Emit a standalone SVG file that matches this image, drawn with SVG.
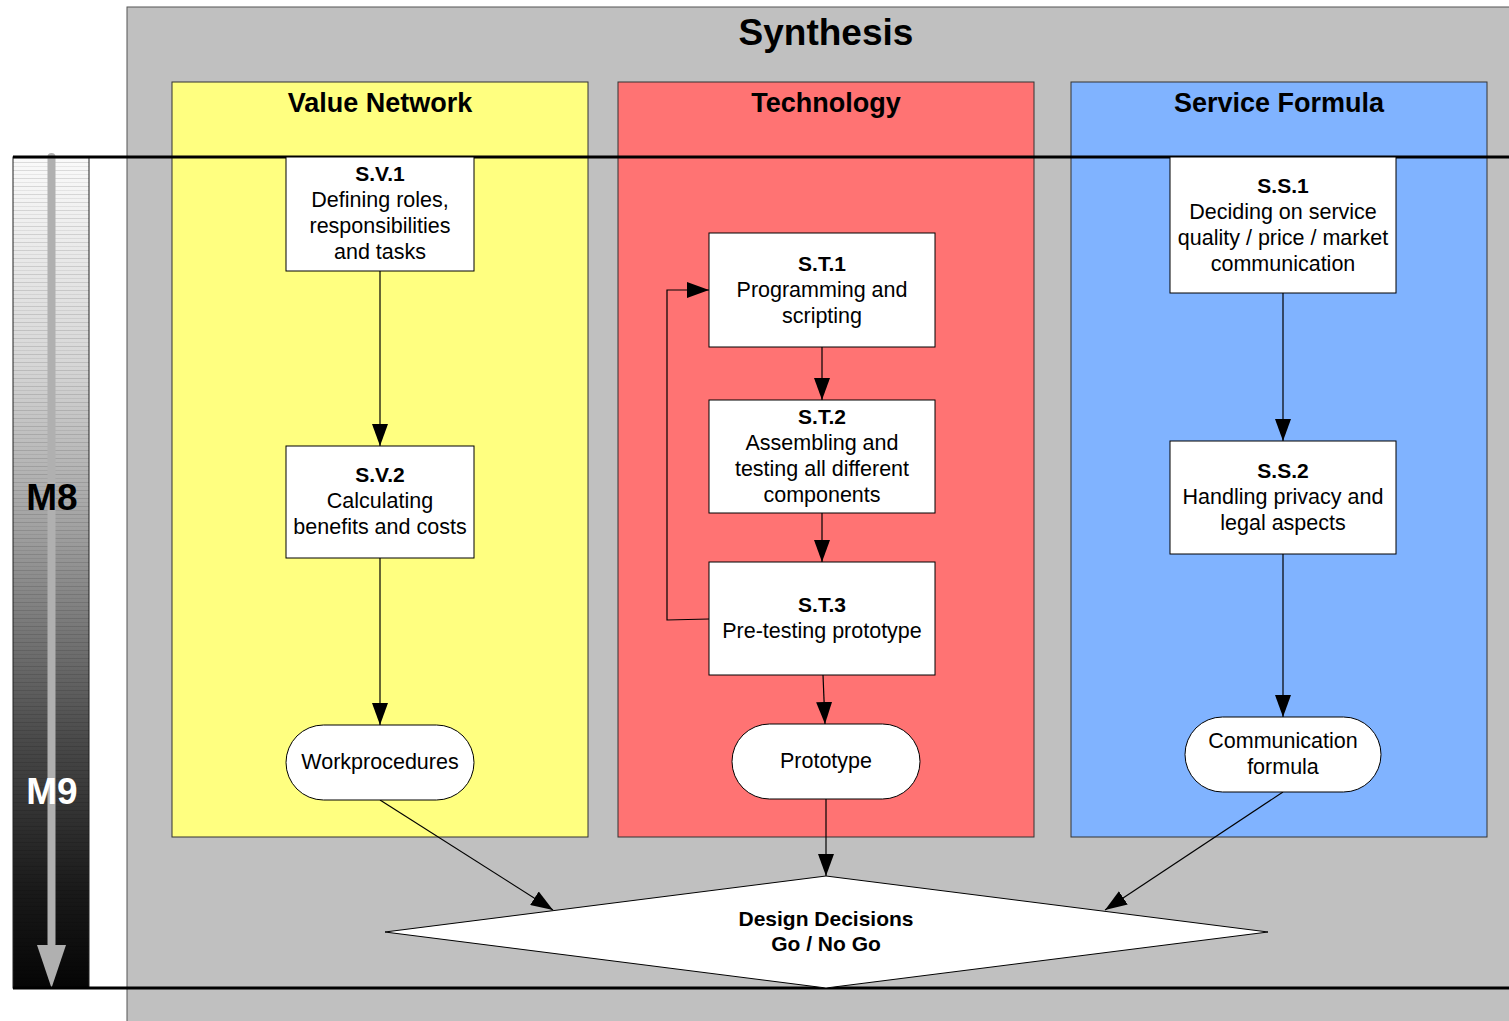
<svg xmlns="http://www.w3.org/2000/svg" width="1509" height="1021" viewBox="0 0 1509 1021">
  <defs>
    <style>
      text { font-family: "Liberation Sans", Arial, sans-serif; fill: #000; }
      .title { font-size: 37px; font-weight: bold; text-anchor: middle; }
      .lane-title { font-size: 27px; font-weight: bold; text-anchor: middle; }
      .id { font-size: 21px; font-weight: bold; text-anchor: middle; }
      .label { font-size: 21.5px; text-anchor: middle; }
      .milestone { font-size: 37px; font-weight: bold; text-anchor: middle; }
      .box { fill: #fff; stroke: #000; stroke-width: 1; }
      .lane { stroke: #333; stroke-width: 1; }
      .conn { fill: none; stroke: #000; stroke-width: 1.2; }
      .rule { stroke: #000; stroke-width: 3; }
    </style>
    <marker id="arrow" markerUnits="userSpaceOnUse" markerWidth="24" markerHeight="16" refX="22" refY="8" orient="auto">
      <path d="M0,0 L22,8 L0,16 z" fill="#000"/>
    </marker>
    <linearGradient id="timeGrad" x1="0" y1="0" x2="0" y2="1">
      <stop offset="0" stop-color="#fafafa"/>
      <stop offset="0.25" stop-color="#d6d6d6"/>
      <stop offset="0.45" stop-color="#a0a0a0"/>
      <stop offset="0.7" stop-color="#4a4a4a"/>
      <stop offset="0.88" stop-color="#1a1a1a"/>
      <stop offset="1" stop-color="#050505"/>
    </linearGradient>
    <pattern id="bands" patternUnits="userSpaceOnUse" width="76" height="8">
      <rect x="0" y="2" width="76" height="1" fill="#000" fill-opacity="0.12"/>
      <rect x="0" y="6" width="76" height="1" fill="#000" fill-opacity="0.07"/>
    </pattern>
  </defs>

  <rect x="0" y="0" width="1509" height="1021" fill="#fff"/>

  <!-- Synthesis panel -->
  <g id="synthesis">
    <rect x="127" y="7" width="1390" height="1020" fill="#c0c0c0" stroke="#555" stroke-width="1"/>
    <text class="title" x="826" y="45">Synthesis</text>
  </g>

  <!-- Lanes -->
  <g id="lane-value-network">
    <rect class="lane" x="172" y="82" width="416" height="755" fill="#ffff80"/>
    <text class="lane-title" x="380" y="112">Value Network</text>
  </g>
  <g id="lane-technology">
    <rect class="lane" x="618" y="82" width="416" height="755" fill="#ff7373"/>
    <text class="lane-title" x="826" y="112">Technology</text>
  </g>
  <g id="lane-service-formula">
    <rect class="lane" x="1071" y="82" width="416" height="755" fill="#80b3ff"/>
    <text class="lane-title" x="1279" y="112">Service Formula</text>
  </g>

  <!-- Time bar -->
  <g id="timeline">
    <rect x="13" y="157" width="76" height="831" fill="url(#timeGrad)" stroke="#222" stroke-width="1"/>
    <rect x="13" y="157" width="76" height="831" fill="url(#bands)"/>
    <rect x="47.5" y="153" width="8" height="795" rx="4" fill="#b0b0b0"/>
    <polygon points="37,945 66,945 51.5,988" fill="#b0b0b0"/>
    <text class="milestone" x="52" y="510">M8</text>
    <text class="milestone" x="52" y="804" style="fill:#fff">M9</text>
  </g>

  <!-- Phase rules -->
  <g id="rules">
    <line class="rule" x1="13" y1="157" x2="1509" y2="157"/>
    <line class="rule" x1="13" y1="988" x2="1509" y2="988"/>
  </g>

  <!-- Connectors -->
  <g id="connectors">
    <line class="conn" x1="380" y1="271" x2="380" y2="446" marker-end="url(#arrow)"/>
    <line class="conn" x1="380" y1="558" x2="380" y2="725" marker-end="url(#arrow)"/>
    <line class="conn" x1="380" y1="800" x2="553" y2="910" marker-end="url(#arrow)"/>

    <line class="conn" x1="822" y1="347" x2="822" y2="400" marker-end="url(#arrow)"/>
    <line class="conn" x1="822" y1="513" x2="822" y2="562" marker-end="url(#arrow)"/>
    <line class="conn" x1="823" y1="675" x2="825" y2="724" marker-end="url(#arrow)"/>
    <polyline class="conn" points="709,619 667,620 667,290 709,290" marker-end="url(#arrow)"/>
    <line class="conn" x1="826" y1="799" x2="826" y2="876" marker-end="url(#arrow)"/>

    <line class="conn" x1="1283" y1="293" x2="1283" y2="441" marker-end="url(#arrow)"/>
    <line class="conn" x1="1283" y1="554" x2="1283" y2="717" marker-end="url(#arrow)"/>
    <line class="conn" x1="1283" y1="792" x2="1105" y2="910" marker-end="url(#arrow)"/>
  </g>

  <!-- Value Network nodes -->
  <g id="sv1">
    <rect class="box" x="286" y="157" width="188" height="114"/>
    <text class="id" x="380" y="181">S.V.1</text>
    <text class="label" x="380" y="207">Defining roles,</text>
    <text class="label" x="380" y="233">responsibilities</text>
    <text class="label" x="380" y="259">and tasks</text>
  </g>
  <g id="sv2">
    <rect class="box" x="286" y="446" width="188" height="112"/>
    <text class="id" x="380" y="482">S.V.2</text>
    <text class="label" x="380" y="508">Calculating</text>
    <text class="label" x="380" y="534">benefits and costs</text>
  </g>
  <g id="workprocedures">
    <rect class="box" x="286" y="725" width="188" height="75" rx="37.5"/>
    <text class="label" x="380" y="769">Workprocedures</text>
  </g>

  <!-- Technology nodes -->
  <g id="st1">
    <rect class="box" x="709" y="233" width="226" height="114"/>
    <text class="id" x="822" y="271">S.T.1</text>
    <text class="label" x="822" y="297">Programming and</text>
    <text class="label" x="822" y="323">scripting</text>
  </g>
  <g id="st2">
    <rect class="box" x="709" y="400" width="226" height="113"/>
    <text class="id" x="822" y="424">S.T.2</text>
    <text class="label" x="822" y="450">Assembling and</text>
    <text class="label" x="822" y="476">testing all different</text>
    <text class="label" x="822" y="502">components</text>
  </g>
  <g id="st3">
    <rect class="box" x="709" y="562" width="226" height="113"/>
    <text class="id" x="822" y="612">S.T.3</text>
    <text class="label" x="822" y="638">Pre-testing prototype</text>
  </g>
  <g id="prototype">
    <rect class="box" x="732" y="724" width="188" height="75" rx="37.5"/>
    <text class="label" x="826" y="768">Prototype</text>
  </g>

  <!-- Service Formula nodes -->
  <g id="ss1">
    <rect class="box" x="1170" y="157" width="226" height="136"/>
    <text class="id" x="1283" y="193">S.S.1</text>
    <text class="label" x="1283" y="219">Deciding on service</text>
    <text class="label" x="1283" y="245">quality / price / market</text>
    <text class="label" x="1283" y="271">communication</text>
  </g>
  <g id="ss2">
    <rect class="box" x="1170" y="441" width="226" height="113"/>
    <text class="id" x="1283" y="478">S.S.2</text>
    <text class="label" x="1283" y="504">Handling privacy and</text>
    <text class="label" x="1283" y="530">legal aspects</text>
  </g>
  <g id="communication-formula">
    <rect class="box" x="1185" y="717" width="196" height="75" rx="37.5"/>
    <text class="label" x="1283" y="748">Communication</text>
    <text class="label" x="1283" y="774">formula</text>
  </g>

  <!-- Decision -->
  <g id="design-decisions">
    <polygon class="box" points="385,932 826,876 1268,932 826,988"/>
    <text class="id" x="826" y="926">Design Decisions</text>
    <text class="id" x="826" y="951">Go / No Go</text>
  </g>
</svg>
